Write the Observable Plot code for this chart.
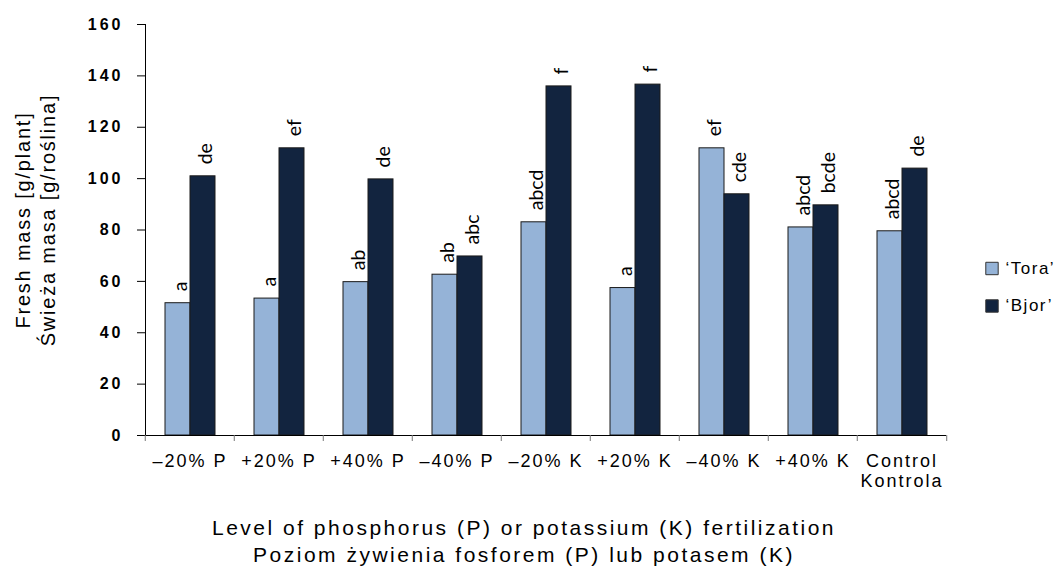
<!DOCTYPE html>
<html>
<head>
<meta charset="utf-8">
<script src="https://cdn.jsdelivr.net/npm/d3@7"></script>
<script src="https://cdn.jsdelivr.net/npm/@observablehq/plot@0.6"></script>
<style>
  body { margin: 0; background: #fff; }
  #chart svg g[aria-label="y-axis tick label"] text { letter-spacing: 3px; }
  #chart svg g[aria-label="fx-axis tick label"] text { letter-spacing: 2px; }
</style>
</head>
<body>
<div id="chart"></div>
<script>
// ---- data ----
const categories = ["–20% P", "+20% P", "+40% P", "–40% P", "–20% K", "+20% K", "–40% K", "+40% K", "Control\nKontrola"];
const series = ["‘Tora’", "‘Bjor’"];
const tora = [51.5, 53.3, 59.7, 62.6, 83.0, 57.4, 111.8, 81.0, 79.5];
const bjor = [100.9, 111.8, 99.7, 69.7, 135.9, 136.6, 93.9, 89.6, 103.9];
const toraLetters = ["a", "a", "ab", "ab", "abcd", "a", "ef", "abcd", "abcd"];
const bjorLetters = ["de", "ef", "de", "abc", "f", "f", "cde", "bcde", "de"];
const yTicks = [0, 20, 40, 60, 80, 100, 120, 140, 160];
const yTitle = "Fresh mass [g/plant]\nŚwieża masa [g/roślina]";
const xTitle = "Level of phosphorus (P) or potassium (K) fertilization\nPoziom żywienia fosforem (P) lub potasem (K)";
const colors = ["#95b3d7", "#12243f"];

const rows = categories.flatMap((c, i) => [
  {category: c, series: series[0], value: tora[i], letter: toraLetters[i]},
  {category: c, series: series[1], value: bjor[i], letter: bjorLetters[i]}
]);

const W = 1063, H = 566;
const mL = 143, mR = 115, mT = 24, mB = 131;
const step = (W - mL - mR) / categories.length;

const chart = Plot.plot({
  width: W, height: H,
  marginLeft: mL, marginRight: mR, marginTop: mT, marginBottom: mB,
  style: {fontFamily: "'Liberation Sans', Arial, sans-serif", background: "#fff", color: "#000"},
  fx: {domain: categories, padding: 0, label: null},
  x: {domain: series, paddingInner: 0, paddingOuter: 0.754, axis: null},
  y: {domain: [0, 160], axis: null},
  color: {domain: series, range: colors},
  marks: [
    Plot.axisY({ticks: yTicks, tickSize: 8, tickPadding: 14, label: null, fontSize: 16, fontWeight: "bold", stroke: "#000"}),
    Plot.frame({anchor: "left", facet: "super", stroke: "#000"}),
    Plot.barY(rows, {fx: "category", x: "series", y: "value", fill: "series", stroke: "#1a1a1a", strokeWidth: 1}),
    Plot.ruleY([0], {stroke: "#000"}),
    Plot.text(rows, {fx: "category", x: "series", y: "value", text: "letter", rotate: -90,
      textAnchor: "start", dx: 3, dy: -12, fontSize: 19.5, fontFamily: "Lato, sans-serif", fill: "#000"}),
    Plot.axisFx({anchor: "bottom", tickSize: 0, tickPadding: 17, fontSize: 18, lineHeight: 1.12, label: null, fill: "#000"}),
    Plot.axisFx({anchor: "bottom", tickSize: 6, tickFormat: () => "", dx: -step / 2, stroke: "#777", label: null}),
    Plot.axisFx({anchor: "bottom", ticks: [categories[categories.length - 1]], tickSize: 6, tickFormat: () => "", dx: step / 2, stroke: "#777", label: null}),
    Plot.text([yTitle], {facet: "super", frameAnchor: "left", rotate: -90, text: d => d, fontSize: 20,
      lineHeight: 1.25, lineAnchor: "middle", textAnchor: "middle", dx: -111, dy: -10, fill: "#000"}),
    Plot.text([xTitle], {facet: "super", frameAnchor: "bottom", text: d => d, fontSize: 21,
      lineHeight: 1.29, lineAnchor: "top", textAnchor: "middle", dx: -22, dy: 80, fill: "#000"}),
    ...series.map((s, i) => Plot.dot([s], {facet: "super", frameAnchor: "right", symbol: "square", r: 7,
      fill: colors[i], stroke: "#333", strokeWidth: 1, dx: 45.5, dy: 38.5 + i * 37.5})),
    ...series.map((s, i) => Plot.text([s], {facet: "super", frameAnchor: "right", text: d => d, textAnchor: "start",
      fontSize: 17, dx: 59, dy: 38.5 + i * 37.5, fill: "#000"}))
  ]
});
document.getElementById("chart").append(chart);

// letter spacing for the titles and legend labels (style only)
const yLines = new Set(yTitle.split("\n"));
const xLines = new Set(xTitle.split("\n"));
d3.select(chart).selectAll("text").each(function () {
  const t = this.textContent;
  const spans = d3.select(this).selectAll("tspan");
  const parts = spans.size() ? spans.nodes().map(n => n.textContent) : [t];
  if (parts.some(p => yLines.has(p))) this.style.letterSpacing = "1.8px";
  else if (parts.some(p => xLines.has(p))) this.style.letterSpacing = "2.5px";
  else if (series.includes(t)) this.style.letterSpacing = "1.5px";
});
</script>
</body>
</html>
